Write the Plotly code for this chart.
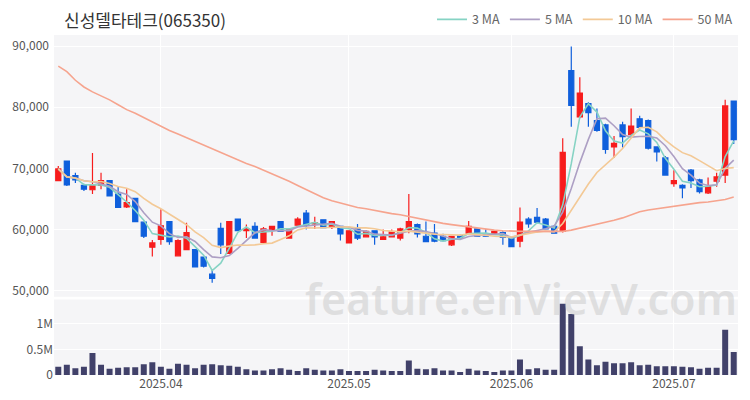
import pandas as pd
import plotly.graph_objects as go

# ---- data ----
dates = (
    ["2025-03-%02d" % d for d in [14, 17, 18, 19, 20, 21, 24, 25, 26, 27, 28, 31]]
    + ["2025-04-%02d" % d for d in [1, 2, 3, 4, 7, 8, 9, 10, 11, 14, 15, 16, 17, 18, 21, 22, 23, 24, 25, 28, 29, 30]]
    + ["2025-05-%02d" % d for d in [2, 7, 8, 9, 12, 13, 14, 15, 16, 19, 20, 21, 22, 23, 26, 27, 28, 29, 30]]
    + ["2025-06-%02d" % d for d in [2, 4, 5, 9, 10, 11, 12, 13, 16, 17, 18, 19, 20, 23, 24, 25, 26, 27, 30]]
    + ["2025-07-%02d" % d for d in [1, 2, 3, 4, 7, 8, 9, 10]]
)

open_ = [68000, 71200, 68800, 67200, 66500, 67200, 68000, 65800, 63700, 65100,
         61200, 57100, 58400, 61300, 55700, 56700, 56700, 55500, 52700, 60200,
         56100, 61700, 59800, 60500, 57900, 59900, 61300, 58600, 60700, 62700,
         60900, 61600, 60400, 60500, 57800, 60100, 58800, 59800, 58400, 58800,
         58600, 60000, 60800, 58900, 59400, 58900, 57500, 59000, 59400, 60100,
         59300, 59300, 59500, 58500, 58100, 61700, 62000, 61700, 60500, 59700,
         86000, 78400, 80600, 77800, 77100, 73500, 77100, 75500, 78100, 77800,
         73500, 71700, 67500, 67200, 69700, 68100, 66000, 67900, 68900, 81000]
high = [70400, 71300, 69300, 67500, 72500, 69300, 68100, 67000, 66600, 65200,
        61200, 58300, 63300, 61400, 58400, 61100, 56700, 55600, 53400, 61100,
        61400, 61800, 60800, 61200, 60400, 60600, 61400, 60200, 62000, 63200,
        62100, 61600, 61400, 60600, 59900, 60900, 59900, 59900, 60000, 60000,
        60300, 65800, 61000, 61300, 60900, 59300, 59000, 59200, 61400, 60200,
        60100, 59900, 59700, 58600, 63600, 62000, 63500, 61900, 60700, 74900,
        89900, 84900, 80800, 79800, 77300, 75300, 77600, 79800, 78600, 78000,
        73600, 72000, 69700, 67400, 69900, 68300, 68500, 69300, 81200, 81100]
low = [67900, 67100, 67600, 66300, 65800, 66600, 65400, 63500, 63500, 61200,
       58600, 55600, 57500, 57500, 55700, 56600, 53800, 53800, 51300, 56000,
       56000, 59700, 58600, 58500, 57800, 59000, 59600, 58500, 60600, 60000,
       60100, 60200, 60100, 58200, 57700, 58300, 58700, 57500, 58300, 58700,
       58200, 59400, 58700, 57900, 57900, 58100, 57300, 58300, 59300, 58800,
       58800, 59100, 57500, 57100, 57100, 60300, 61000, 60000, 59300, 59500,
       76800, 78200, 76800, 76000, 72400, 71700, 73400, 75300, 76500, 73100,
       71100, 68800, 67000, 65100, 66800, 65900, 65800, 67000, 67600, 74000]
close = [69900, 67300, 68100, 66600, 67200, 68000, 65500, 63600, 64400, 61300,
         58900, 57800, 60600, 58000, 58200, 59500, 53900, 54000, 52000, 57500,
         61300, 59800, 60100, 58600, 60100, 60500, 59700, 60100, 61700, 60700,
         61100, 60300, 61300, 59300, 59800, 58600, 59700, 58800, 58800, 59600,
         60100, 61300, 59300, 58000, 58100, 58200, 58900, 58600, 60500, 58900,
         58900, 59700, 58700, 57200, 61200, 60900, 61200, 60100, 59400, 72600,
         80300, 82300, 79100, 76200, 73100, 74100, 75200, 76900, 76700, 73300,
         72700, 68900, 68000, 66800, 68000, 66200, 67000, 68600, 80200, 74700]
volume = [160000, 200000, 130000, 160000, 430000, 200000, 120000, 140000, 150000, 150000,
          210000, 250000, 160000, 120000, 220000, 200000, 130000, 200000, 210000, 190000,
          180000, 160000, 110000, 90000, 90000, 110000, 130000, 100000, 80000, 130000,
          100000, 90000, 90000, 110000, 80000, 80000, 80000, 100000, 90000, 80000,
          80000, 280000, 120000, 110000, 130000, 90000, 90000, 60000, 120000, 90000,
          80000, 60000, 90000, 90000, 300000, 110000, 130000, 100000, 100000, 1390000,
          1190000, 560000, 300000, 190000, 260000, 230000, 230000, 250000, 190000, 200000,
          170000, 170000, 170000, 160000, 150000, 120000, 140000, 140000, 880000, 450000]
ma50 = [86700, 85800, 84400, 83300, 82500, 81900, 81200, 80400, 79600, 79000,
        78300, 77500, 76800, 76200, 75600, 75000, 74400, 73800, 73200, 72600,
        71900, 71400, 70800, 70300, 69700, 69200, 68500, 67900, 67200, 66500,
        65800, 65200, 64700, 64300, 63900, 63600, 63400, 63100, 62800, 62600,
        62400, 62100, 61800, 61500, 61200, 61000, 60800, 60600, 60400, 60200,
        60000, 59900, 59800, 59700, 59700, 59700, 59700, 59700, 59700, 59700,
        59900, 60200, 60500, 60900, 61200, 61500, 61900, 62400, 62900, 63200,
        63400, 63700, 63900, 64100, 64200, 64400, 64500, 64700, 64900, 65300]

tick_dates = ["2025-04-01", "2025-05-02", "2025-06-02", "2025-07-01"]
tick_text = ["2025.04", "2025.05", "2025.06", "2025.07"]
price_ticks = [50000, 60000, 70000, 80000, 90000]
vol_ticks = [0, 500000, 1000000]
vol_tick_text = ["0", "0.5M", "1M"]

title = "신성델타테크(065350)"

# ---- figure ----
cs = pd.Series(close, dtype=float)
ma3 = cs.rolling(3, min_periods=1).mean()
ma5 = cs.rolling(5, min_periods=1).mean()
ma10 = cs.rolling(10, min_periods=1).mean()

FONT = "Noto Sans CJK KR"
RED = "#f71c1c"
BLUE = "#0f5fdc"

fig = go.Figure()
fig.add_trace(go.Candlestick(
    x=dates, open=open_, high=high, low=low, close=close,
    increasing=dict(line=dict(color=RED, width=1.2), fillcolor=RED),
    decreasing=dict(line=dict(color=BLUE, width=1.2), fillcolor=BLUE),
    whiskerwidth=0, showlegend=False, xaxis="x", yaxis="y"))

for name, vals, col in [("3 MA", ma3, "#86d3c4"), ("5 MA", ma5, "#ad9fc4"),
                        ("10 MA", ma10, "#f3c996"), ("50 MA", ma50, "#f6a48e")]:
    fig.add_trace(go.Scatter(x=dates, y=list(vals), mode="lines", name=name,
                             line=dict(color=col, width=1.6), xaxis="x", yaxis="y"))

fig.add_trace(go.Bar(x=dates, y=volume, marker=dict(color="#41416a", line=dict(width=0)),
                     showlegend=False, xaxis="x2", yaxis="y2"))

axis_font = dict(family=FONT, size=12, color="#555")
fig.update_layout(
    width=742, height=392,
    margin=dict(l=46, r=12, t=27, b=25, autoexpand=False),
    paper_bgcolor="white", plot_bgcolor="#f5f5f7",
    font=dict(family=FONT, color="#444"),
    bargap=0.3, boxgap=0.15,
    xaxis=dict(type="category", domain=[0, 1], anchor="y", range=[-0.5, len(dates) - 0.5],
               rangeslider=dict(visible=False), tickvals=tick_dates, ticktext=tick_text,
               showticklabels=False, showgrid=True, gridcolor="white", gridwidth=1,
               zeroline=False, showline=False, ticks=""),
    xaxis2=dict(type="category", domain=[0, 1], anchor="y2", matches="x",
                range=[-0.5, len(dates) - 0.5], tickvals=tick_dates, ticktext=tick_text,
                showgrid=True, gridcolor="white", gridwidth=1, zeroline=False,
                tickfont=axis_font, ticks=""),
    yaxis=dict(domain=[0.23, 1], range=[49000, 91800], tickvals=price_ticks,
               tickformat=",d", tickfont=axis_font, showgrid=True, gridcolor="white",
               gridwidth=1, zeroline=False, ticks="", ticklabelstandoff=4),
    yaxis2=dict(domain=[0, 0.222], range=[0, 1470000], tickvals=vol_ticks,
                ticktext=vol_tick_text, tickfont=axis_font, showgrid=True,
                gridcolor="white", gridwidth=1, zeroline=False, ticks=""),
    legend=dict(orientation="h", x=1.0, xanchor="right", y=1.045, yanchor="middle",
                font=dict(family=FONT, size=12.5, color="#666"), bgcolor="rgba(0,0,0,0)",
                itemwidth=30, tracegroupgap=0),
    annotations=[
        dict(text=title, xref="paper", yref="paper", x=0.012, y=1.045, xanchor="left",
             yanchor="middle", showarrow=False,
             font=dict(family=FONT, size=17, color="#333")),
        dict(text="feature.enVievV.com", xref="paper", yref="paper", x=0.683, y=0.226,
             xanchor="center", yanchor="middle", showarrow=False,
             font=dict(family="Noto Sans", size=43, weight=600, color="rgba(200,200,200,0.5)")),
    ],
)

fig.write_html("out.html")
